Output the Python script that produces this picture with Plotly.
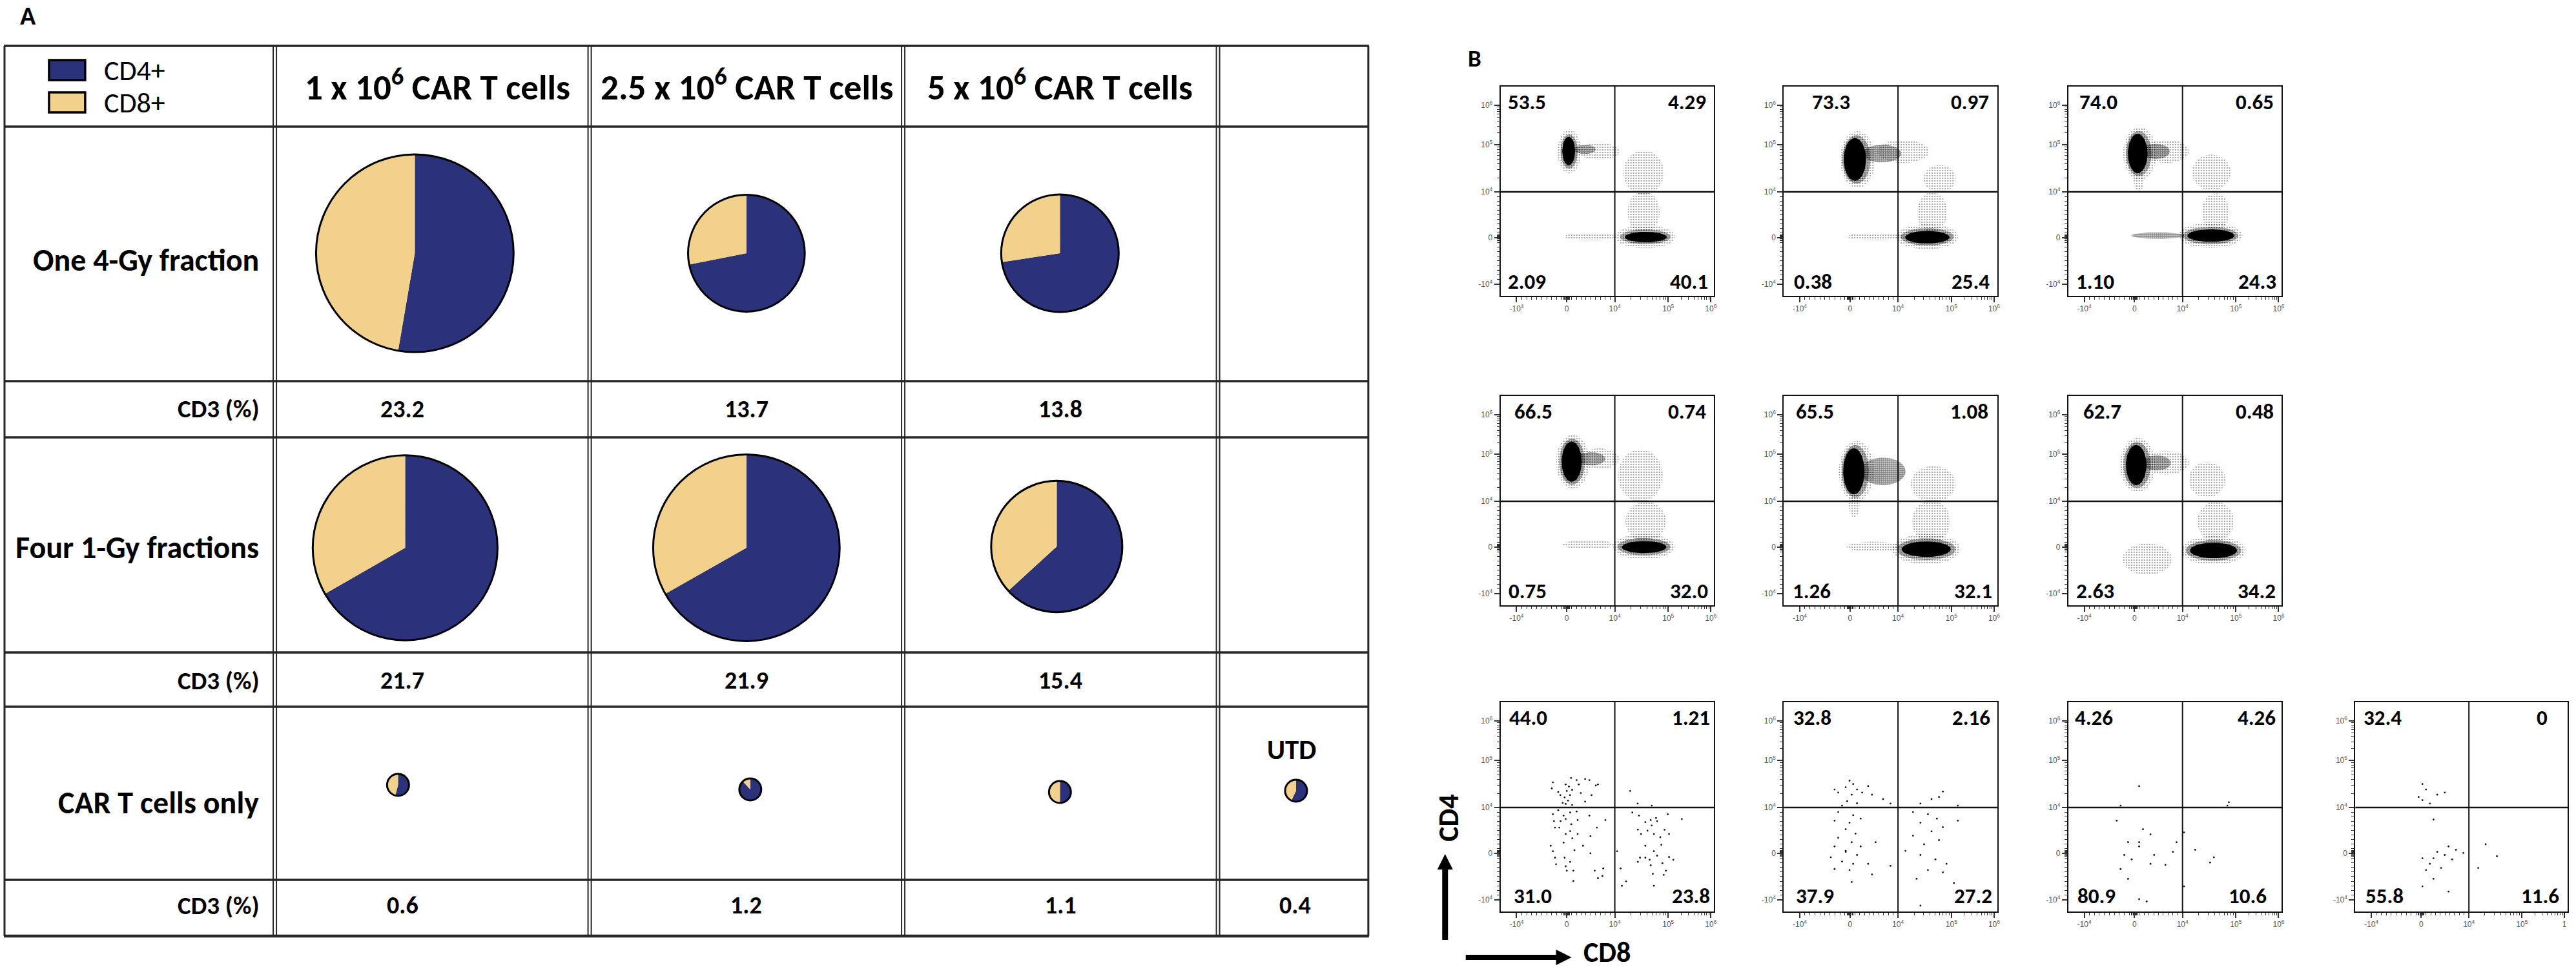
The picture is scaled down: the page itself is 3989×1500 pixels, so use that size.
import numpy as np
import plotly.graph_objects as go

W, H = 3989, 1500

# ------------------------------------------------------------------ data: panel A
DOSE_LABELS = ["1 x 10<sup>6</sup> CAR T cells", "2.5 x 10<sup>6</sup> CAR T cells",
               "5 x 10<sup>6</sup> CAR T cells"]
CONDITIONS = ["One 4-Gy fraction", "Four 1-Gy fractions", "CAR T cells only"]
SUBSETS = ["CD4+", "CD8+"]
CD3_ONE_4GY = [23.2, 13.7, 13.8]
CD3_FOUR_1GY = [21.7, 21.9, 15.4]
CD3_CAR_ONLY = [0.6, 1.2, 1.1]
CD3_UTD = 0.4
CD4_SHARE_ONE_4GY = [52.7, 71.9, 72.6]      # % CD4+ of the pie
CD4_SHARE_FOUR_1GY = [66.7, 66.8, 63.2]
CD4_SHARE_CAR_ONLY = [54.0, 88.0, 50.0]
CD4_SHARE_UTD = 57.0
UTD_LABEL = "UTD"

# ------------------------------------------------------------------ data: panel B
Q_UL = ["53.5", "73.3", "74.0", "66.5", "65.5", "62.7", "44.0", "32.8", "4.26", "32.4"]
Q_UR = ["4.29", "0.97", "0.65", "0.74", "1.08", "0.48", "1.21", "2.16", "4.26", "0"]
Q_LL = ["2.09", "0.38", "1.10", "0.75", "1.26", "2.63", "31.0", "37.9", "80.9", "55.8"]
Q_LR = ["40.1", "25.4", "24.3", "32.0", "32.1", "34.2", "23.8", "27.2", "10.6", "11.6"]
X_TICK_TEXT = ["-10<sup>4</sup>", "0", "10<sup>4</sup>", "10<sup>5</sup>", "10<sup>6</sup>"]
X_TICK_TEXT_LAST = ["-10<sup>4</sup>", "0", "10<sup>4</sup>", "10<sup>5</sup>", "1"]
Y_TICK_TEXT = ["-10<sup>4</sup>", "0", "10<sup>4</sup>", "10<sup>5</sup>", "10<sup>6</sup>"]

# populations (channel units 0-1000): centre x, centre y, half-width, half-height
CORES = [
    [(319, 692, 30, 68), (680, 281, 98, 25)],
    [(333, 652, 52, 102), (672, 280, 104, 30)],
    [(325, 680, 46, 94), (668, 288, 110, 30)],
    [(333, 686, 47, 96), (672, 278, 104, 29)],
    [(328, 640, 50, 110), (667, 268, 115, 37)],
    [(318, 670, 48, 96), (680, 262, 110, 37)],
]
HALO_DENSE = [
    [(321, 690, 40, 82), (678, 282, 118, 36), (395, 700, 50, 22)],
    [(340, 652, 66, 116), (460, 680, 90, 42), (672, 282, 124, 42)],
    [(330, 680, 60, 108), (420, 288, 125, 15), (666, 288, 130, 42), (410, 690, 65, 36)],
    [(335, 686, 60, 110), (671, 280, 124, 42), (425, 700, 65, 32)],
    [(335, 640, 64, 126), (465, 640, 105, 66), (667, 268, 138, 52)],
    [(322, 670, 64, 110), (680, 262, 130, 50), (415, 680, 65, 36)],
]
HALO_SPARSE = [
    [(460, 690, 100, 40), (670, 590, 95, 105), (670, 400, 75, 100), (420, 283, 125, 18),
     (322, 690, 55, 105), (678, 282, 140, 55)],
    [(560, 690, 120, 55), (730, 560, 75, 65), (695, 400, 70, 95), (430, 283, 135, 18),
     (345, 652, 82, 135), (672, 282, 145, 60)],
    [(460, 690, 105, 55), (670, 590, 90, 85), (690, 400, 65, 90), (330, 560, 25, 60),
     (335, 680, 78, 125), (666, 288, 150, 60)],
    [(460, 700, 95, 50), (655, 620, 105, 125), (680, 400, 95, 95), (410, 290, 120, 22),
     (338, 686, 78, 128), (671, 280, 145, 60)],
    [(700, 580, 105, 85), (690, 400, 90, 100), (420, 280, 125, 24), (330, 480, 25, 60),
     (340, 640, 82, 145), (667, 268, 160, 72)],
    [(460, 680, 105, 55), (650, 600, 85, 85), (690, 400, 85, 95), (370, 220, 115, 75),
     (325, 670, 82, 130), (680, 262, 150, 68)],
]

# individual events of the sparse "CAR T cells only" / UTD plots (channel units)
EV7_X = [245, 240, 305, 310, 320, 330, 335, 325, 300, 316, 291, 356, 366, 376, 396, 416, 426,
         396, 446, 456, 280, 305, 335, 270, 245, 270, 295, 326, 356, 250, 281, 305, 331, 361,
         255, 275, 305, 336, 326, 361, 295, 421, 451, 491, 416, 235, 245, 255, 260, 300, 305,
         326, 310, 341, 341, 346, 386, 421, 441, 456, 477, 481, 607, 642, 708, 617, 648, 678,
         703, 728, 733, 783, 849, 643, 658, 688, 708, 718, 748, 768, 789, 678, 718, 753, 653,
         678, 698, 733, 758, 789, 809, 643, 703, 713, 764, 774, 562, 588, 568, 718, 546]
EV7_Y = [617, 588, 607, 576, 597, 638, 581, 556, 545, 530, 519, 628, 607, 566, 633, 628, 556,
         525, 602, 607, 556, 514, 509, 571, 465, 484, 458, 473, 478, 432, 432, 442, 417, 437,
         401, 401, 370, 350, 384, 370, 329, 360, 401, 437, 458, 314, 288, 257, 226, 257, 216,
         237, 195, 195, 146, 293, 314, 278, 195, 159, 170, 206, 576, 516, 506, 473, 458, 427,
         437, 447, 432, 465, 442, 391, 370, 386, 411, 370, 355, 391, 370, 314, 288, 319, 257,
         257, 247, 267, 231, 260, 247, 237, 221, 180, 175, 195, 206, 144, 123, 123, 288]
EV8_X = [308, 325, 290, 343, 255, 318, 367, 297, 343, 273, 413, 465, 500, 238, 395, 640, 727,
         745, 692, 815, 255, 325, 238, 308, 360, 290, 336, 255, 318, 238, 290, 343, 220, 273,
         325, 238, 308, 395, 430, 500, 413, 318, 290, 360, 605, 675, 717, 640, 745, 692, 605,
         727, 657, 570, 640, 710, 762, 675, 622, 797, 640, 745, 815]
EV8_Y = [625, 609, 594, 583, 568, 558, 568, 527, 517, 506, 558, 537, 516, 583, 599, 516, 547,
         573, 537, 506, 475, 460, 434, 424, 444, 393, 372, 352, 331, 311, 285, 270, 259, 239,
         228, 203, 198, 228, 331, 218, 177, 141, 290, 311, 475, 465, 444, 424, 403, 383, 362,
         341, 321, 290, 270, 249, 228, 198, 156, 136, 28, 187, 434]
EV9_X = [332, 245, 752, 745, 227, 350, 385, 280, 332, 262, 297, 385, 455, 490, 507, 402, 245,
         280, 210, 332, 367, 332, 542, 542, 594, 664, 682]
EV9_Y = [599, 506, 522, 506, 434, 393, 368, 331, 311, 270, 249, 228, 223, 285, 331, 270, 203,
         156, 95, 59, 48, 331, 378, 120, 295, 234, 259]
EV10_X = [316, 333, 386, 421, 316, 351, 298, 368, 439, 474, 421, 386, 456, 368, 316, 351, 404,
          333, 368, 316, 439, 509, 614, 667, 579]
EV10_Y = [609, 583, 558, 568, 532, 516, 547, 439, 311, 295, 270, 285, 249, 254, 254, 228, 208,
          198, 156, 120, 95, 280, 321, 264, 208]
EVENTS = {7: (EV7_X, EV7_Y), 8: (EV8_X, EV8_Y), 9: (EV9_X, EV9_Y), 10: (EV10_X, EV10_Y)}

# ------------------------------------------------------------------ layout constants
NAVY = "#2C3279"
TAN = "#F2D18C"
LINE = "#262626"
FONT = "Carlito, Lato, 'Liberation Sans', sans-serif"
TICKFONT = "'Liberation Sans', Arial, sans-serif"

TBL_X = [7, 426, 914, 1400, 1888, 2121]
TBL_Y = [71, 196, 590, 677, 1010, 1094, 1362, 1449]
HEADER_X = [678, 1158, 1643]
HEADER_Y = 132
ROW_LABEL_RIGHT = 403
ROW_LABEL_Y = [402, 847, 1242]
CD3_ROW_Y = [633, 1053, 1401]
VALUE_X = [624, 1157, 1644]
UTD_X = 2008
PIE_CENTERS = [
    [(643, 392), (1157, 392), (1643, 392)],
    [(628, 848), (1157, 848), (1638, 846)],
    [(617, 1215), (1163, 1222), (1643, 1226)],
]
PIE_CENTER_UTD = (2009, 1224)
PIE_PX_PER_CD3 = 6.6
PIE_MIN_R = 17

PLOT_COLS = [(2326, 2657), (2765, 3096), (3206, 3537), (3651, 3980)]
PLOT_ROWS = [(134, 458), (613, 937), (1087, 1411)]
PLOT_CELLS = [(0, 0), (0, 1), (0, 2), (1, 0), (1, 1), (1, 2), (2, 0), (2, 1), (2, 2), (2, 3)]
X_TICK_CH = [75, 310, 535, 785, 985]
Y_TICK_CH = [56, 278, 497, 722, 910]
GATE_X_CH = 535
GATE_Y_CH = 497
UL_LEFT = [9, 42, 15, 19, 17, 21, 11, 13, 8, 11]
UR_RIGHT = [10, 11, 10, 10, 12, 10, 4, 9, 7, 29]
LL_LEFT = [9, 14, 10, 10, 12, 10, 18, 17, 12, 14]
LR_RIGHT = [7, 10, 6, 7, 6, 7, 4, 6, 21, 11]


def px(x):
    return x / W


def py(y):
    return 1 - y / H


def minor_ticks(neg, zero, p4, p5, p6):
    t = [zero - (zero - neg) * k / 10 for k in range(1, 10)]
    t += [zero + (p4 - zero) * k / 10 for k in range(1, 10)]
    t += [zero + d for d in (-14, -10, -6, -3, 3, 6, 10, 14)]
    t += [p4 + (p5 - p4) * np.log10(m) for m in range(2, 10)]
    t += [p5 + (p6 - p5) * np.log10(m) for m in range(2, 10)]
    return t


def ellipse(cx, cy, rx, ry, n=60):
    t = np.linspace(0, 2 * np.pi, n)
    return cx + rx * np.cos(t), cy + ry * np.sin(t)


fig = go.Figure()
shapes, ann = [], []


def text(x, y, s, size, xanchor="center", bold=True, color="black", textangle=0):
    ann.append(dict(x=px(x), y=py(y), xref="paper", yref="paper", showarrow=False,
                    text=f"<b>{s}</b>" if bold else s, xanchor=xanchor, yanchor="middle",
                    textangle=textangle, font=dict(family=FONT, size=size, color=color)))


# ------------------------------------------------------------------ panel A table
for i, y in enumerate(TBL_Y):
    w = 4.5 if i == len(TBL_Y) - 1 else 3.5
    shapes.append(dict(type="line", xref="paper", yref="paper", x0=px(TBL_X[0] - 1),
                       x1=px(TBL_X[-1] + 1), y0=py(y), y1=py(y), line=dict(color=LINE, width=w)))
for i, x in enumerate(TBL_X):
    offs = [0] if i in (0, len(TBL_X) - 1) else [-2.5, 2.5]
    for o in offs:
        shapes.append(dict(type="line", xref="paper", yref="paper", x0=px(x + o), x1=px(x + o),
                           y0=py(TBL_Y[0]), y1=py(TBL_Y[-1]),
                           line=dict(color=LINE, width=3 if len(offs) == 1 else 2)))

# legend
for j, (name, col) in enumerate(zip(SUBSETS, [NAVY, TAN])):
    y0 = 93 + 50 * j
    shapes.append(dict(type="rect", xref="paper", yref="paper", x0=px(76), x1=px(132),
                       y0=py(y0), y1=py(y0 + 31), fillcolor=col, line=dict(color="black", width=3.5)))
    text(159, y0 + 16, name, 44, xanchor="left", bold=False)

for x, lab in zip(HEADER_X, DOSE_LABELS):
    text(x, HEADER_Y, lab, 55)
for y, lab in zip(ROW_LABEL_Y, CONDITIONS):
    text(ROW_LABEL_RIGHT, y, lab, 48, xanchor="right")
for y, vals in zip(CD3_ROW_Y, [CD3_ONE_4GY, CD3_FOUR_1GY, CD3_CAR_ONLY]):
    text(ROW_LABEL_RIGHT + 1, y, "CD3 (%)", 39, xanchor="right")
    for x, v in zip(VALUE_X, vals):
        text(x, y, f"{v:.1f}", 38)
text(UTD_X, CD3_ROW_Y[2], f"{CD3_UTD:.1f}", 38)
text(2002, 1160, UTD_LABEL, 43)


def add_pie(cx, cy, cd3, share):
    r = max(PIE_MIN_R, PIE_PX_PER_CD3 * cd3)
    fig.add_trace(go.Pie(values=[share, 100 - share], labels=SUBSETS, sort=False,
                         direction="clockwise", rotation=0, textinfo="none", hoverinfo="skip",
                         marker=dict(colors=[NAVY, TAN], line=dict(width=0)), showlegend=False,
                         domain=dict(x=[px(cx - r), px(cx + r)], y=[py(cy + r), py(cy - r)])))
    shapes.append(dict(type="circle", xref="paper", yref="paper", x0=px(cx - r), x1=px(cx + r),
                       y0=py(cy + r), y1=py(cy - r), line=dict(color="black", width=3)))


for centers, cd3s, shares in zip(PIE_CENTERS, [CD3_ONE_4GY, CD3_FOUR_1GY, CD3_CAR_ONLY],
                                  [CD4_SHARE_ONE_4GY, CD4_SHARE_FOUR_1GY, CD4_SHARE_CAR_ONLY]):
    for (cx, cy), c, s in zip(centers, cd3s, shares):
        add_pie(cx, cy, c, s)
add_pie(*PIE_CENTER_UTD, CD3_UTD, CD4_SHARE_UTD)

# ------------------------------------------------------------------ panel B flow plots
text(2273, 91, "B", 37, xanchor="left")
text(29, 24, "A", 40, xanchor="left")

xminor = minor_ticks(*X_TICK_CH)
yminor = minor_ticks(*Y_TICK_CH)
layout_axes = {}


def cloud(xn, yn, spec, solidity, size, fill):
    for (cx, cy, rx, ry) in spec:
        ex, ey = ellipse(cx, cy, rx, ry)
        kw = dict(fillcolor=fill)
        if solidity is not None:
            kw["fillpattern"] = dict(shape=".", size=size, solidity=solidity,
                                     fgcolor="#000", bgcolor="rgba(0,0,0,0)")
        fig.add_trace(go.Scatter(x=ex, y=ey, xaxis=xn, yaxis=yn, mode="lines", fill="toself",
                                 line=dict(width=0), hoverinfo="skip", showlegend=False, **kw))


for k, (r, c) in enumerate(PLOT_CELLS, start=1):
    x0, x1 = PLOT_COLS[c]
    y0, y1 = PLOT_ROWS[r]
    xn = "x" if k == 1 else f"x{k}"
    yn = "y" if k == 1 else f"y{k}"
    common = dict(range=[0, 1000], showgrid=False, zeroline=False, showline=True,
                  linecolor="#111", linewidth=2, mirror=True, ticks="outside", ticklen=8,
                  tickwidth=1.5, tickcolor="#333", fixedrange=True,
                  tickfont=dict(family=TICKFONT, size=12, color="#555"))
    layout_axes["xaxis" if k == 1 else f"xaxis{k}"] = dict(
        common, domain=[px(x0), px(x1)], anchor=yn, tickmode="array", tickvals=X_TICK_CH,
        ticktext=X_TICK_TEXT_LAST if k == 10 else X_TICK_TEXT,
        minor=dict(tickmode="array", tickvals=xminor, ticks="outside", ticklen=4,
                   tickwidth=1, tickcolor="#333"))
    layout_axes["yaxis" if k == 1 else f"yaxis{k}"] = dict(
        common, domain=[py(y1), py(y0)], anchor=xn, tickmode="array", tickvals=Y_TICK_CH,
        ticktext=Y_TICK_TEXT,
        minor=dict(tickmode="array", tickvals=yminor, ticks="outside", ticklen=4,
                   tickwidth=1, tickcolor="#333"))

    if k <= 6:
        cloud(xn, yn, HALO_SPARSE[k - 1], 0.18, 4, "rgba(0,0,0,0)")
        cloud(xn, yn, HALO_DENSE[k - 1], 0.7, 3, "rgba(0,0,0,0)")
        cloud(xn, yn, CORES[k - 1], None, None, "black")
    else:
        ex, ey = EVENTS[k]
        fig.add_trace(go.Scatter(x=ex, y=ey, xaxis=xn, yaxis=yn, mode="markers",
                                 marker=dict(size=2.8, color="#111"), hoverinfo="skip",
                                 showlegend=False))

    # quadrant gates
    shapes.append(dict(type="line", xref=xn, yref=f"{yn} domain", x0=GATE_X_CH, x1=GATE_X_CH,
                       y0=0, y1=1, line=dict(color="#111", width=2)))
    shapes.append(dict(type="line", xref=f"{xn} domain", yref=yn, x0=0, x1=1, y0=GATE_Y_CH,
                       y1=GATE_Y_CH, line=dict(color="#111", width=2.5)))

    top_c = y0 + 24
    bot_c = y1 - (22 if r < 2 else 24)
    i = k - 1
    text(x0 + UL_LEFT[i], top_c, Q_UL[i], 33, xanchor="left")
    text(x1 - UR_RIGHT[i], top_c, Q_UR[i], 33, xanchor="right")
    text(x0 + LL_LEFT[i], bot_c, Q_LL[i], 33, xanchor="left")
    text(x1 - LR_RIGHT[i], bot_c, Q_LR[i], 33, xanchor="right")

# axis arrows
shapes.append(dict(type="line", xref="paper", yref="paper", x0=px(2240), x1=px(2240),
                   y0=py(1455), y1=py(1342), line=dict(color="black", width=9)))
shapes.append(dict(type="path", xref="paper", yref="paper", fillcolor="black",
                   line=dict(color="black", width=0),
                   path=f"M {px(2240)} {py(1322)} L {px(2228)} {py(1346)} L {px(2252)} {py(1346)} Z"))
shapes.append(dict(type="line", xref="paper", yref="paper", x0=px(2272), x1=px(2415),
                   y0=py(1482), y1=py(1482), line=dict(color="black", width=8)))
shapes.append(dict(type="path", xref="paper", yref="paper", fillcolor="black",
                   line=dict(color="black", width=0),
                   path=f"M {px(2436)} {py(1482)} L {px(2412)} {py(1470)} L {px(2412)} {py(1494)} Z"))
text(2245, 1266, "CD4", 44, textangle=-90)
text(2452, 1474, "CD8", 44, xanchor="left")

fig.update_layout(width=W, height=H, margin=dict(l=0, r=0, t=0, b=0), paper_bgcolor="white",
                  plot_bgcolor="white", showlegend=False, shapes=shapes, annotations=ann,
                  **layout_axes)
fig.write_html("out.html", config={"displayModeBar": False},
               post_script="document.body.style.margin='0';")
